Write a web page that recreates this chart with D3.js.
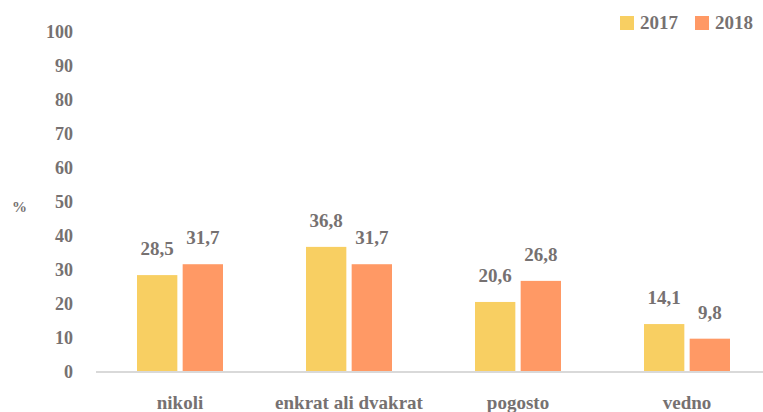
<!DOCTYPE html>
<html>
<head>
<meta charset="utf-8">
<script src="https://cdn.jsdelivr.net/npm/d3@7"></script>
<style>
  body { margin: 0; background: #fff; }
</style>
</head>
<body>
<div id="chart"></div>
<script>
// Sizes, colours and font.
const WIDTH = 763;
const HEIGHT = 412;
const YEAR_COLORS = ["#F8CF62", "#FF9965"];
const TEXT_COLOR = "#767171";
const FONT = "Liberation Serif, DejaVu Serif, serif";

// Chart data.
const categories = ["nikoli", "enkrat ali dvakrat", "pogosto", "vedno"];
const years = ["2017", "2018"];
const values2017 = [28.5, 36.8, 20.6, 14.1];
const values2018 = [31.7, 31.7, 26.8, 9.8];
const yTicks = [0, 10, 20, 30, 40, 50, 60, 70, 80, 90, 100];

const series = [values2017, values2018];

const svg = d3.select("#chart")
  .append("svg")
  .attr("width", WIDTH)
  .attr("height", HEIGHT)
  .attr("font-family", FONT)
  .attr("font-weight", "bold");

// Scales.
const x = d3.scaleBand()
  .domain(categories)
  .range([95.5, 771.5]);

const sub = d3.scaleBand()
  .domain(years)
  .range([x.bandwidth() / 2 - 43, x.bandwidth() / 2 + 43])
  .paddingInner(10 / 86);

const y = d3.scaleLinear()
  .domain([0, 100])
  .range([372, 32]);

// Y axis labels (no line, no ticks).
const yAxis = svg.append("g")
  .attr("transform", "translate(73,0)")
  .call(d3.axisLeft(y).tickValues(yTicks).tickSize(0).tickPadding(0));
yAxis.attr("font-family", FONT).attr("font-size", 18);
yAxis.select(".domain").remove();
yAxis.selectAll("text").attr("fill", TEXT_COLOR);

svg.append("text")
  .attr("x", 12)
  .attr("y", 212)
  .attr("font-size", 15)
  .attr("fill", TEXT_COLOR)
  .text("%");

// Bars.
const groups = svg.selectAll(".cat")
  .data(categories)
  .join("g")
  .attr("class", "cat")
  .attr("transform", d => `translate(${x(d)},0)`);

years.forEach((yr, i) => {
  groups.append("rect")
    .attr("x", sub(yr))
    .attr("y", (d, j) => y(series[i][j]))
    .attr("width", sub.bandwidth())
    .attr("height", (d, j) => y(0) - y(series[i][j]))
    .attr("fill", YEAR_COLORS[i]);

  groups.append("text")
    .attr("x", sub(yr) + sub.bandwidth() / 2)
    .attr("y", (d, j) => y(series[i][j]) - 20)
    .attr("text-anchor", "middle")
    .attr("font-size", 19)
    .attr("fill", TEXT_COLOR)
    .text((d, j) => String(series[i][j]).replace(".", ","));
});

// X axis line and category labels.
const xAxis = svg.append("g")
  .attr("transform", `translate(0,${y(0)})`)
  .call(d3.axisBottom(x).tickSize(0).tickPadding(24));
xAxis.attr("font-family", FONT).attr("font-size", 19);
xAxis.select(".domain")
  .attr("stroke", "#D9D9D9")
  .attr("stroke-width", 2)
  .attr("d", `M96,0H763`);
xAxis.selectAll("text").attr("fill", TEXT_COLOR);

// Legend.
const legend = svg.append("g");
const legendX = [620, 695];
years.forEach((yr, i) => {
  legend.append("rect")
    .attr("x", legendX[i])
    .attr("y", 16)
    .attr("width", 14)
    .attr("height", 14)
    .attr("fill", YEAR_COLORS[i]);
  legend.append("text")
    .attr("x", legendX[i] + 20)
    .attr("y", 29)
    .attr("font-size", 19)
    .attr("fill", TEXT_COLOR)
    .text(yr);
});
</script>
</body>
</html>
